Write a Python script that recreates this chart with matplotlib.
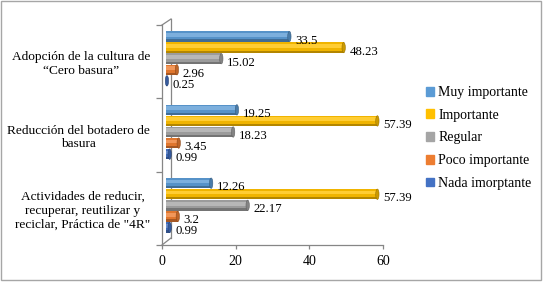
import numpy as np
import matplotlib.pyplot as plt
import matplotlib.transforms as mtransforms
from matplotlib.colors import to_rgb
from matplotlib.patches import Rectangle, Ellipse

plt.rcParams['font.family'] = ['Liberation Serif', 'DejaVu Serif']

categories = ['Actividades de reducir,\nrecuperar, reutilizar y\nreciclar, Práctica de "4R"',
              'Reducción del botadero de\nbasura',
              'Adopción de la cultura de\n“Cero basura”']
series = ['Muy importante', 'Importante', 'Regular', 'Poco importante', 'Nada imorptante']
muy = [12.26, 19.25, 33.5]
imp = [57.39, 57.39, 48.23]
reg = [22.17, 18.23, 15.02]
poco = [3.2, 3.45, 2.96]
nada = [0.99, 0.99, 0.25]
values = [muy, imp, reg, poco, nada]
colors = ['#5B9BD5', '#FFC000', '#A5A5A5', '#ED7D31', '#4472C4']
xticks = [0, 20, 40, 60]

W, H = 543, 282
fs = 10
grey = '#868686'


def mix(c, k):
    r = np.array(to_rgb(c))
    if k > 0:
        return r + (1 - r) * k
    return r * (1 + k)


fig = plt.figure(figsize=(W / 100, H / 100), dpi=100)
ax = fig.add_axes([162 / W, 1 - 245 / H, 221 / W, 220 / H])

# back wall of the 3d box
def fline(p, q):
    ax.plot([p[0] / W, q[0] / W], [1 - p[1] / H, 1 - q[1] / H], color=grey, lw=0.9,
            transform=fig.transFigure, clip_on=False, zorder=0.5)

fline((171, 19), (171, 238))
fline((162, 25), (171, 19))
fline((162, 245), (171, 238))

back = mtransforms.offset_copy(ax.transData, fig=fig, x=4, y=3, units='dots')
step = 0.151
bh = 0.142
for j, vals in enumerate(values):
    c = colors[j]
    for i, v in enumerate(vals):
        yc = i + (2 - j) * step
        # cylinder body: base, highlight band, shadowed lower edge
        ax.barh(yc, v, height=bh, color=mix(c, -0.06), transform=back, zorder=2, lw=0)
        ax.barh(yc + bh * 0.16, v, height=bh * 0.36, color=mix(c, 0.2), transform=back,
                zorder=2.1, lw=0)
        ax.barh(yc - bh * 0.39, v, height=bh * 0.22, color=mix(c, -0.3), transform=back,
                zorder=2.1, lw=0)
        cap = Ellipse((v, yc), 0.9, bh, transform=back, zorder=3,
                      facecolor=mix(c, -0.2), edgecolor=mix(c, -0.4), lw=0.4)
        ax.add_patch(cap)
        ax.annotate(str(v), (v, yc), xytext=(10, -1), textcoords='offset pixels',
                    va='center', ha='left', fontsize=9.2, zorder=4)

ax.set_xlim(0, 60)
ax.set_ylim(-0.5, 2.5)
ax.set_xticks(xticks)
ax.set_yticks(range(len(categories)))
ax.set_yticklabels(categories, multialignment='center', fontsize=9.6)
ax.set_yticks([-0.5, 0.5, 1.5, 2.5], minor=True)
ax.tick_params(axis='y', which='major', length=0, pad=8.5)
ax.tick_params(axis='y', which='minor', length=4, color=grey, width=0.9)
ax.tick_params(axis='x', length=3, color=grey, width=0.9, labelsize=fs, pad=4)
for side in ['top', 'right']:
    ax.spines[side].set_visible(False)
for side in ['left', 'bottom']:
    ax.spines[side].set_color(grey)
    ax.spines[side].set_linewidth(0.9)
ax.patch.set_alpha(0)

handles = [Rectangle((0, 0), 1, 1, color=c) for c in colors]
fig.legend(handles, series, loc='upper left', bbox_to_anchor=(426 / W, 1 - 86 / H),
           frameon=False, fontsize=fs, handlelength=0.6, handleheight=0.6,
           handletextpad=0.3, labelspacing=0.7, borderaxespad=0, borderpad=0)

fig.add_artist(Rectangle((1 / W, 2 / H), 540 / W, 279 / H, transform=fig.transFigure,
                         fill=False, edgecolor='#A6A6A6', lw=1))

fig.savefig('out.png', dpi=100)
